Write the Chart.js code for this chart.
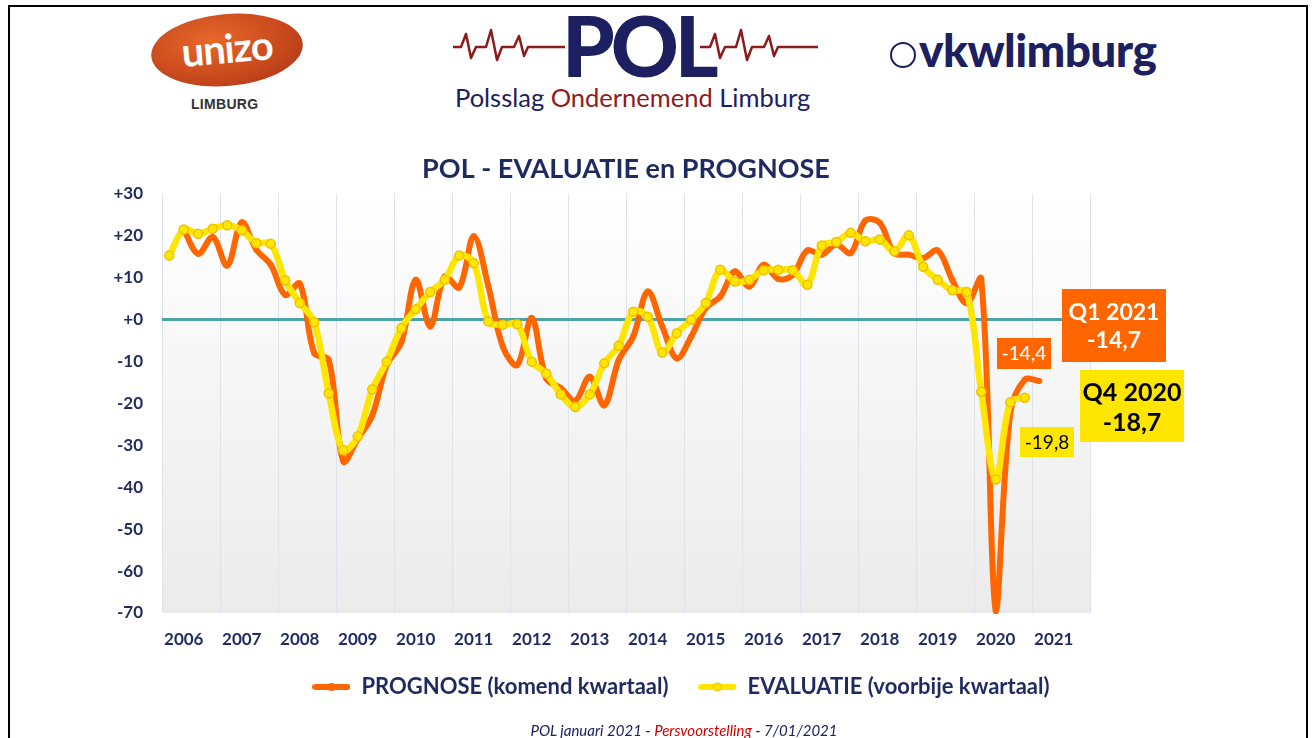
<!DOCTYPE html>
<html>
<head>
<meta charset="utf-8">
<script src="https://cdn.jsdelivr.net/npm/chart.js@4.4.1/dist/chart.umd.min.js"></script>
<style>
  html, body { margin: 0; padding: 0; background: #fff; }
  body { width: 1312px; height: 738px; position: relative; overflow: hidden; font-family: Lato, 'Open Sans', sans-serif; }
  #frame { position: absolute; left: 8px; top: 5px; width: 1300px; height: 780px; border: 2px solid #000; box-sizing: border-box; }
  #chart { position: absolute; left: 0; top: 0; }
  .unizo { position: absolute; left: 151px; top: 14px; width: 152px; height: 72px; border-radius: 50%;
    background: radial-gradient(ellipse at 40% 35%, #e8682a 0%, #c94a1c 55%, #a8301a 100%); transform: rotate(-5deg);
    color: #fff; font: bold 40px Lato, sans-serif; text-align: center; line-height: 68px; letter-spacing: -1px; }
  .unizo-sub { position: absolute; left: 191px; top: 96px; font: bold 14px 'Liberation Sans', sans-serif; color: #333; letter-spacing: 0.3px; }
  .pol { position: absolute; left: 562px; top: 3px; font: 900 84px Lato, sans-serif; color: #1c2060; letter-spacing: -4px; line-height: 84px; }
  .pol-sub { position: absolute; left: 455px; top: 82px; font: 25.5px Lato, sans-serif; color: #1c2060; white-space: nowrap; }
  .pol-sub span { color: #8e1b1b; }
  .beat { position: absolute; top: 20px; }
  .vkw { position: absolute; left: 919px; top: 22px; font: 900 46px Lato, sans-serif; color: #1c2060; letter-spacing: -0.6px; }
  .vkw-ring { position: absolute; left: 890px; top: 42px; width: 22px; height: 22px; border: 2.5px solid #1c2060; border-radius: 50%; }
  .box { position: absolute; text-align: center; display: flex; align-items: center; justify-content: center; line-height: 1.2; }
  .org { background: #ff6600; color: #fff; }
  .yel { background: #ffe600; color: #000; }
  .footer { position: absolute; left: 0; width: 1368px; top: 721px; text-align: center; font: italic 15px Lato, sans-serif; color: #1c2060; }
  .footer span { color: #d00000; }
</style>
</head>
<body>
<div id="frame"></div>

<div class="unizo">unizo</div>
<div class="unizo-sub">LIMBURG</div>

<svg class="beat" style="left:453px" width="112" height="50">
  <polyline fill="none" stroke="#8e1b1b" stroke-width="2.5" stroke-linejoin="round"
    points="0,27 8,27 13,14 18,38 23,27 33,27 38,10 44,40 49,27 61,27 66,16 71,36 75,27 112,27"/>
</svg>
<div class="pol">POL</div>
<svg class="beat" style="left:700px" width="118" height="50">
  <polyline fill="none" stroke="#8e1b1b" stroke-width="2.5" stroke-linejoin="round"
    points="0,27 10,27 15,14 20,38 25,27 36,27 41,10 47,40 52,27 64,27 69,16 74,36 78,27 118,27"/>
</svg>
<div class="pol-sub">Polsslag <span>Ondernemend</span> Limburg</div>

<div class="vkw-ring"></div>
<div class="vkw">vkwlimburg</div>

<canvas id="chart" width="1312" height="738"></canvas>

<div class="box org" style="left:997px;top:338px;width:54px;height:31px;font-size:19px;">-14,4</div>
<div class="box org" style="left:1062px;top:289px;width:104px;height:73px;font-size:23px;font-weight:bold;">Q1 2021<br>-14,7</div>
<div class="box yel" style="left:1080px;top:370px;width:104px;height:72px;font-size:25px;font-weight:bold;">Q4 2020<br>-18,7</div>
<div class="box yel" style="left:1020px;top:427px;width:54px;height:30px;font-size:19px;">-19,8</div>

<div class="footer">POL januari 2021 - <span>Persvoorstelling</span> - 7/01/2021</div>

<script>
const years = [2006, 2007, 2008, 2009, 2010, 2011, 2012, 2013, 2014, 2015, 2016, 2017, 2018, 2019, 2020, 2021];

// evaluatie (voorbije kwartaal), 2006 Q1 .. 2020 Q4
const evaluatie = [
  15.2, 21.4, 20.4, 21.6,
  22.4, 21.2, 18.2, 18.0,
  9.3, 3.9, -0.7, -17.7,
  -31.2, -27.9, -16.7, -10.1,
  -2.1, 2.4, 6.5, 9.4,
  15.2, 13.4, -0.5, -1.3,
  -1.2, -10.1, -12.9, -17.9,
  -20.9, -17.9, -10.5, -6.3,
  1.8, 0.6, -7.9, -3.3,
  -0.1, 3.9, 11.8, 9.0,
  9.4, 11.7, 11.8, 11.7,
  8.2, 17.6, 18.4, 20.6,
  18.6, 19.0, 16.2, 20.0,
  12.5, 9.4, 6.9, 6.5,
  -17.3, -38.2, -19.8, -18.7
];

// prognose (komend kwartaal), 2006 Q2 .. 2021 Q1
const prognose = [
  null, 21.4, 15.6, 19.6,
  12.8, 23.1, 16.6, 13.0,
  5.8, 8.5, -8.1, -9.7,
  -33.8, -28.5, -22.9, -10.9,
  -5.5, 9.4, -1.7, 10.2,
  7.6, 19.8, 8.0, -6.5,
  -10.9, 0.3, -14.1, -16.4,
  -19.4, -13.7, -20.5, -9.7,
  -4.1, 6.6, -1.7, -9.3,
  -4.1, 2.7, 5.4, 11.4,
  7.8, 13.0, 9.6, 10.6,
  16.4, 15.4, 17.8, 15.8,
  23.5, 23.0, 15.8, 15.4,
  14.6, 16.4, 9.4, 3.8,
  9.6, -69.5, -22.5, -14.4,
  -14.7
];

const yMin = -70;
const yMax = 30;
const yStep = 10;

const quarterLabels = [];
years.forEach(y => {
  for (let q = 1; q <= 4; q++) quarterLabels.push(y + ' Q' + q);
});

const navy = '#1f2a5e';
const orange = '#ff6600';
const yellow = '#ffe600';

function legendMarker(line, fill, stroke) {
  const c = document.createElement('canvas');
  c.width = 38;
  c.height = 12;
  const g = c.getContext('2d');
  g.strokeStyle = line;
  g.lineWidth = 6;
  g.lineCap = 'round';
  g.beginPath(); g.moveTo(3, 6); g.lineTo(35, 6); g.stroke();
  g.beginPath(); g.arc(19, 6, 4, 0, Math.PI * 2);
  g.fillStyle = fill; g.fill();
  if (stroke) { g.lineWidth = 1.2; g.strokeStyle = stroke; g.stroke(); }
  return c;
}
const markers = [legendMarker(orange, orange), legendMarker(yellow, yellow, '#f0c000')];

const plotBackground = {
  id: 'plotBackground',
  beforeDraw(chart) {
    const { ctx, chartArea: a } = chart;
    const grad = ctx.createLinearGradient(0, a.top, 0, a.bottom);
    grad.addColorStop(0, '#ffffff');
    grad.addColorStop(1, '#ebebeb');
    ctx.save();
    ctx.fillStyle = grad;
    ctx.fillRect(a.left, a.top, a.right - a.left, a.bottom - a.top);
    ctx.restore();
  }
};

new Chart(document.getElementById('chart'), {
  type: 'line',
  data: {
    labels: quarterLabels,
    datasets: [{
      label: 'PROGNOSE (komend kwartaal)',
      data: prognose,
      borderColor: orange,
      backgroundColor: orange,
      borderWidth: 6,
      pointRadius: 3,
      pointBackgroundColor: orange,
      pointBorderWidth: 0,
      tension: 0.35,
      clip: 4,
      order: 2
    }, {
      label: 'EVALUATIE (voorbije kwartaal)',
      data: evaluatie,
      borderColor: yellow,
      backgroundColor: yellow,
      borderWidth: 6.5,
      pointRadius: 4.5,
      pointBackgroundColor: yellow,
      pointBorderColor: '#f0c000',
      pointBorderWidth: 1.5,
      tension: 0.35,
      order: 1
    }]
  },
  options: {
    responsive: false,
    animation: false,
    devicePixelRatio: 1,
    layout: { padding: { left: 100, right: 50, top: 153, bottom: 30 } },
    plugins: {
      title: {
        display: true,
        text: 'POL - EVALUATIE en PROGNOSE',
        color: navy,
        fullSize: false,
        font: { family: 'Lato', size: 27, weight: 'bold' },
        padding: { top: 0, bottom: 8 }
      },
      legend: {
        position: 'bottom',
        labels: {
          color: navy,
          font: { family: 'Lato', size: 22, weight: 'bold' },
          usePointStyle: true,
          pointStyleWidth: 38,
          boxHeight: 12,
          padding: 30,
          sort: (a, b) => a.datasetIndex - b.datasetIndex,
          generateLabels(chart) {
            const items = Chart.defaults.plugins.legend.labels.generateLabels(chart);
            items.forEach(it => { it.pointStyle = markers[it.datasetIndex]; });
            return items;
          }
        }
      },
      tooltip: { enabled: false }
    },
    scales: {
      x: {
        offset: true,
        afterFit: s => { s.height = 33; },
        grid: {
          offset: true,
          drawTicks: false,
          color: ctx => (ctx.index !== undefined && ctx.index % 4 !== 0) ? 'rgba(0,0,0,0)' : '#dbe3ef',
          lineWidth: 1
        },
        border: { display: false },
        ticks: {
          autoSkip: false,
          maxRotation: 0,
          padding: 16,
          color: navy,
          font: { family: 'Lato', size: 17, weight: 'bold' },
          callback: (v, i) => i % 4 === 1 ? String(years[Math.floor(i / 4)]) : ''
        }
      },
      y: {
        min: yMin,
        max: yMax,
        afterFit: s => { s.width = 62; },
        grid: {
          drawTicks: false,
          color: ctx => ctx.tick && ctx.tick.value === 0 ? '#4aa3a8' : 'rgba(0,0,0,0)',
          lineWidth: ctx => ctx.tick && ctx.tick.value === 0 ? 3 : 0
        },
        border: { display: false },
        ticks: {
          stepSize: yStep,
          padding: 19,
          color: navy,
          font: { family: 'Lato', size: 17, weight: 'bold' },
          callback: v => (v >= 0 ? '+' : '') + v
        }
      },
      yRight: {
        position: 'right',
        display: true,
        afterFit: s => { s.width = 172; },
        grid: { display: false },
        border: { display: false },
        ticks: { display: false }
      }
    }
  },
  plugins: [plotBackground]
});
</script>
</body>
</html>
